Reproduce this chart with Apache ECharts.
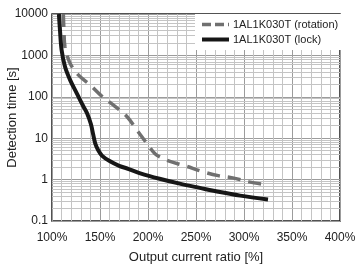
<!DOCTYPE html>
<html>
<head>
<meta charset="utf-8">
<script src="https://cdn.jsdelivr.net/npm/echarts@6/dist/echarts.min.js"></script>
<style>
  html, body { margin: 0; padding: 0; background: #fff; }
  #chart { width: 359px; height: 264px; }
</style>
</head>
<body>
<div id="chart"></div>
<script>
// values: [output current ratio %, detection time s]
const rotationName = '1AL1K030T (rotation)'
const lockName = '1AL1K030T (lock)'

const rotationData = [
  [111.8, 10000], [112.5, 3740], [113.5, 1620], [118.8, 650], [127.4, 339],
  [139.6, 195], [151.8, 104], [165.6, 59], [177.8, 34], [188.2, 16],
  [198.6, 7.6], [207.3, 4.2], [215, 3.3], [222.9, 2.75], [240.3, 2.09],
  [255.9, 1.58], [273.2, 1.25], [288.2, 1.1], [305.5, 0.88], [325.3, 0.74]
]

const lockData = [
  [107.2, 10000], [108.3, 4100], [110, 1350], [113.5, 540], [118.8, 257],
  [125.7, 123], [132.6, 59], [136.5, 40], [140.5, 22], [143, 12],
  [145, 7.5], [148, 5.2], [152, 3.8], [160, 2.8], [170, 2.15],
  [180, 1.8], [192, 1.42], [212, 1.05], [233, 0.8], [254, 0.63],
  [275, 0.5], [296, 0.41], [325, 0.33]
]

const xTickLabels = ['100%', '150%', '200%', '250%', '300%', '350%', '400%']
const yTickLabels = ['0.1', '1', '10', '100', '1000', '10000']

// log minor grid lines (2..9 in every decade)
const yDecades = [0.1, 1, 10, 100, 1000]
const yMinorGrid = []
yDecades.forEach(d => {
  for (let k = 2; k <= 9; k++) yMinorGrid.push(+(d * k).toPrecision(3))
})

const chart = echarts.init(document.getElementById('chart'))
const font = 'Liberation Sans, Arial, sans-serif'

const option = {
  animation: false,
  textStyle: { fontFamily: font },
  grid: {
    left: 52, right: 19, top: 14, bottom: 43,
    outerBoundsMode: 'none',
    containLabel: false,
    show: true,
    backgroundColor: '#fff',
    borderColor: '#1a1a1a',
    borderWidth: 1.5
  },
  legend: {
    left: 195, top: 14,
    orient: 'vertical',
    padding: [5, 4, 5, 5],
    backgroundColor: '#fff',
    itemWidth: 27, itemHeight: 12, itemGap: 4,
    textStyle: { fontSize: 11, color: '#222', padding: [0, 0, 0, -1] },
    data: [
      {
        name: rotationName,
        itemStyle: { opacity: 0 },
        lineStyle: { type: [9, 4], width: 3.5, color: '#707070' }
      },
      {
        name: lockName,
        itemStyle: { opacity: 0 },
        lineStyle: { width: 4, color: '#161616' }
      }
    ]
  },
  xAxis: {
    type: 'value',
    min: 100, max: 400, interval: 50,
    name: 'Output current ratio [%]',
    nameLocation: 'middle',
    nameGap: 30,
    nameMoveOverlap: false,
    nameTextStyle: { fontSize: 13, color: '#222' },
    axisLine: { show: false },
    axisTick: { show: false },
    axisLabel: {
      fontSize: 12, color: '#222', margin: 11,
      formatter: (v, i) => xTickLabels[i]
    },
    splitLine: { lineStyle: { color: '#9c9c9c', width: 1 } },
    minorTick: { show: false, splitNumber: 5 },
    minorSplitLine: { show: true, lineStyle: { color: '#c4c4c4', width: 1 } }
  },
  yAxis: {
    type: 'log',
    logBase: 10,
    min: 0.1, max: 10000,
    name: 'Detection time [s]',
    nameLocation: 'middle',
    nameGap: 33,
    nameMoveOverlap: false,
    nameTextStyle: { fontSize: 13, color: '#222' },
    axisLine: { show: false },
    axisTick: { show: false },
    axisLabel: {
      fontSize: 12, color: '#222', margin: 4,
      formatter: (v, i) => yTickLabels[i]
    },
    splitLine: { lineStyle: { color: '#9c9c9c', width: 1 } }
  },
  series: [
    {
      name: 'minor-grid',
      type: 'line',
      data: [],
      silent: true,
      markLine: {
        silent: true,
        z: 1,
        symbol: 'none',
        label: { show: false },
        lineStyle: { color: '#c4c4c4', width: 1, type: 'solid' },
        emphasis: { disabled: true },
        data: yMinorGrid.map(v => ({ yAxis: v }))
      }
    },
    {
      name: rotationName,
      type: 'line',
      data: rotationData,
      symbol: 'none',
      smooth: 0.35,
      lineStyle: { color: '#707070', width: 3.5, type: [13, 8] },
      itemStyle: { color: '#707070' },
      z: 3
    },
    {
      name: lockName,
      type: 'line',
      data: lockData,
      symbol: 'none',
      smooth: 0.35,
      lineStyle: { color: '#161616', width: 4 },
      itemStyle: { color: '#161616' },
      z: 4
    }
  ]
}

chart.setOption(option)
</script>
</body>
</html>
